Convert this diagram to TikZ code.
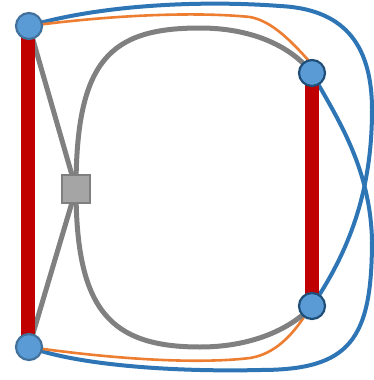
\documentclass[tikz,border=0pt]{standalone}
\usetikzlibrary{positioning}
\definecolor{nodeblue}{HTML}{5B9BD5}
\definecolor{rimlight}{HTML}{41719C}
\definecolor{rimdark}{HTML}{1F4E79}
\definecolor{edgeblue}{HTML}{2E75B6}
\definecolor{edgeorange}{HTML}{ED7D31}
\definecolor{edgegray}{HTML}{808080}
\definecolor{barred}{HTML}{C00000}
\definecolor{hubfill}{HTML}{A5A5A5}
\definecolor{hubrim}{HTML}{7F7F7F}
\begin{document}
\begin{tikzpicture}[
  x=1pt, y=-1pt,
  vnode/.style={circle, draw, minimum size=26pt, inner sep=0pt, line width=2.2pt, fill=nodeblue},
  vleft/.style={vnode, draw=rimlight},
  vright/.style={vnode, draw=rimdark},
  hubbox/.style={rectangle, draw=hubrim, fill=hubfill, minimum size=28pt, inner sep=0pt, line width=2pt},
  redbar/.style={draw=barred, line width=14pt},
  blueedge/.style={draw=edgeblue, line width=4pt},
  orangeedge/.style={draw=edgeorange, line width=2.6pt},
  grayedge/.style={draw=edgegray, line width=5pt}
]
\useasboundingbox (0,0) rectangle (373,380);

% vertex positions
\coordinate (tl) at (29,26);
\coordinate (bl) at (29,347);
\coordinate (tr) at (312,73);
\coordinate (br) at (312,306);
\coordinate (hb) at (76,189);
\coordinate (trtop) at (309,61);
\coordinate (brlow) at (304,317);

% outer blue edges
\draw[blueedge] (tl) .. controls (100,5) and (200,0) .. (280,6)
  .. controls (340,9) and (372,40) .. (372,110)
  .. controls (372,190) and (350,250) .. (br);
\draw[blueedge] (tr) .. controls (335,115) and (370,165) .. (372,240)
  .. controls (372,340) and (350,370) .. (260,370)
  .. controls (180,372) and (80,366) .. (bl);

% orange edges
\draw[orangeedge] (tl) .. controls (120,14) and (200,12) .. (250,17)
  .. controls (272,21) and (292,42) .. (trtop);
\draw[orangeedge] (bl) .. controls (120,360) and (200,364) .. (250,358)
  .. controls (275,354) and (292,335) .. (brlow);

% gray edges through the hub
\draw[grayedge] (hb) .. controls (76,60) and (110,28) .. (200,28)
  .. controls (250,28) and (290,45) .. (tr);
\draw[grayedge] (hb) .. controls (76,310) and (110,347) .. (200,347)
  .. controls (250,347) and (290,330) .. (br);
\draw[grayedge] (tl) -- (hb);
\draw[grayedge] (bl) -- (hb);

% red bars
\draw[redbar] (28,26) -- (28,347);
\draw[redbar] (tr) -- (br);

% vertices
\node[hubbox] (hub) at (hb) {};
\node[vleft] (vtl) at (tl) {};
\node[vleft] (vbl) at (bl) {};
\node[vright] (vtr) at (tr) {};
\node[vright] (vbr) at (br) {};

\end{tikzpicture}
\end{document}
